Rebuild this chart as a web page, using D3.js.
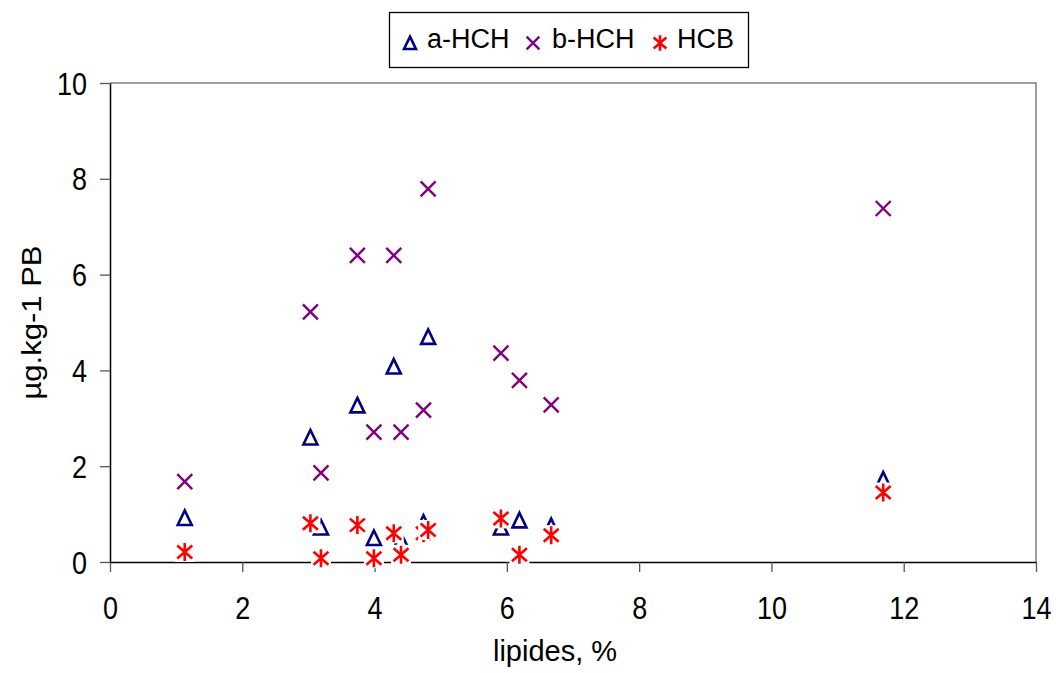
<!DOCTYPE html>
<html>
<head>
<meta charset="utf-8">
<script src="https://cdn.jsdelivr.net/npm/d3@7"></script>
<style>
  html, body { margin: 0; padding: 0; background: #fff; }
  svg { display: block; }
  text { font-family: "Liberation Sans", Arial, sans-serif; fill: #000; }
</style>
</head>
<body>
<svg id="chart" width="1056" height="673"></svg>
<script>
// ---- data ----
const lipides = [1.13, 3.03, 3.19, 3.74, 3.99, 4.29, 4.40, 4.74, 4.81, 5.91, 6.19, 6.67, 11.69];
const aHCH    = [0.92, 2.60, 0.72, 3.27, 0.50, 4.08, 0.45, 0.82, 4.70, 0.72, 0.87, 0.75, 1.72];
const bHCH    = [1.68, 5.22, 1.86, 6.40, 2.71, 6.40, 2.71, 3.17, 7.79, 4.36, 3.79, 3.28, 7.38];
const HCB     = [0.21, 0.81, 0.08, 0.77, 0.08, 0.60, 0.15, 0.60, 0.67, 0.91, 0.15, 0.56, 1.45];
const seriesNames = ["a-HCH", "b-HCH", "HCB"];
const xTicks = [0, 2, 4, 6, 8, 10, 12, 14];
const yTicks = [0, 2, 4, 6, 8, 10];
const xTitle = "lipides, %";
const yTitle = "µg.kg-1 PB";

const svg = d3.select("#chart");
const FS = 27;
const STRETCH = 1.15;

const x = d3.scaleLinear().domain([0, 14]).range([110, 1036]);
const y = d3.scaleLinear().domain([0, 10]).range([562, 83]);

// plot border (top & right)
svg.append("path")
  .attr("d", `M${x(0)},${y(10)}H${x(14)}V${y(0)}`)
  .attr("fill", "none").attr("stroke", "#808080").attr("stroke-width", 1.5);

// axes
const gx = svg.append("g").attr("transform", `translate(0,${y(0)})`)
  .call(d3.axisBottom(x).tickValues(xTicks).tickSize(10).tickSizeOuter(0).tickFormat(d3.format("d")));
const gy = svg.append("g").attr("transform", `translate(${x(0)},0)`)
  .call(d3.axisLeft(y).tickValues(yTicks).tickSize(10).tickSizeOuter(0).tickFormat(d3.format("d")));

[gx, gy].forEach(g => {
  g.select(".domain").attr("stroke", "#000").attr("stroke-width", 1.5);
  g.selectAll(".tick line").attr("stroke", "#555").attr("stroke-width", 1.3);
  g.selectAll("text").attr("font-size", FS).attr("font-family", "Liberation Sans, Arial, sans-serif").attr("fill", "#000");
});
gx.selectAll(".tick text")
  .attr("y", null).attr("dy", "0.36em")
  .attr("transform", `translate(0,46) scale(1,${STRETCH})`);
gy.selectAll(".tick text")
  .attr("x", null).attr("dy", "0.36em")
  .attr("transform", `translate(-23,0) scale(1,${STRETCH})`);

// axis titles
svg.append("text")
  .attr("x", 555).attr("y", 661)
  .attr("text-anchor", "middle")
  .attr("font-size", 29).text(xTitle);
svg.append("text")
  .attr("transform", `translate(31,${(y(0) + y(10)) / 2}) scale(1,${STRETCH}) rotate(-90)`)
  .attr("text-anchor", "middle").attr("dy", "0.36em")
  .attr("font-size", FS).text(yTitle);

// marker drawers
function triangle(g, s) {
  g.append("path")
    .attr("d", `M0,${-7.5*s}L${7*s},${7*s}L${-7*s},${7*s}Z`)
    .attr("fill", "#fff").attr("stroke", "#000080").attr("stroke-width", 2.6).attr("stroke-linejoin", "miter");
}
function cross(g, s) {
  g.append("rect").attr("x", -10*s).attr("y", -10*s).attr("width", 20*s).attr("height", 20*s).attr("fill", "#fff");
  g.append("path")
    .attr("d", `M${-7.5*s},${-7.5*s}L${7.5*s},${7.5*s}M${-7.5*s},${7.5*s}L${7.5*s},${-7.5*s}`)
    .attr("stroke", "#800080").attr("stroke-width", 2.4).attr("fill", "none");
}
function star(g, s) {
  g.append("rect").attr("x", -10*s).attr("y", -10*s).attr("width", 20*s).attr("height", 20*s).attr("fill", "#fff");
  g.append("path")
    .attr("d", `M${-7.5*s},${-6.5*s}L${7.5*s},${6.5*s}M${-7.5*s},${6.5*s}L${7.5*s},${-6.5*s}M0,${-9*s}V${9*s}`)
    .attr("stroke", "#ff0000").attr("stroke-width", 2.6).attr("fill", "none");
}
const drawers = [triangle, cross, star];
const seriesVals = [aHCH, bHCH, HCB];

seriesVals.forEach((vals, si) => {
  const data = lipides.map((l, i) => ({ l, v: vals[i] }));
  svg.append("g").selectAll("g").data(data).join("g")
    .attr("transform", d => `translate(${x(d.l)},${y(d.v)})`)
    .each(function () { drawers[si](d3.select(this), 1); });
});

// legend
const lg = svg.append("g");
lg.append("rect").attr("x", 389.5).attr("y", 12.5).attr("width", 359).attr("height", 55)
  .attr("fill", "#fff").attr("stroke", "#000").attr("stroke-width", 1.3);
const legX = [410, 533, 660];
const legTX = [427, 552, 677];
seriesNames.forEach((n, i) => {
  const m = lg.append("g").attr("transform", `translate(${legX[i]},43)`);
  drawers[i](m, 0.85);
  lg.append("text").attr("x", legTX[i]).attr("y", 48).attr("font-size", FS).text(n);
});
</script>
</body>
</html>
